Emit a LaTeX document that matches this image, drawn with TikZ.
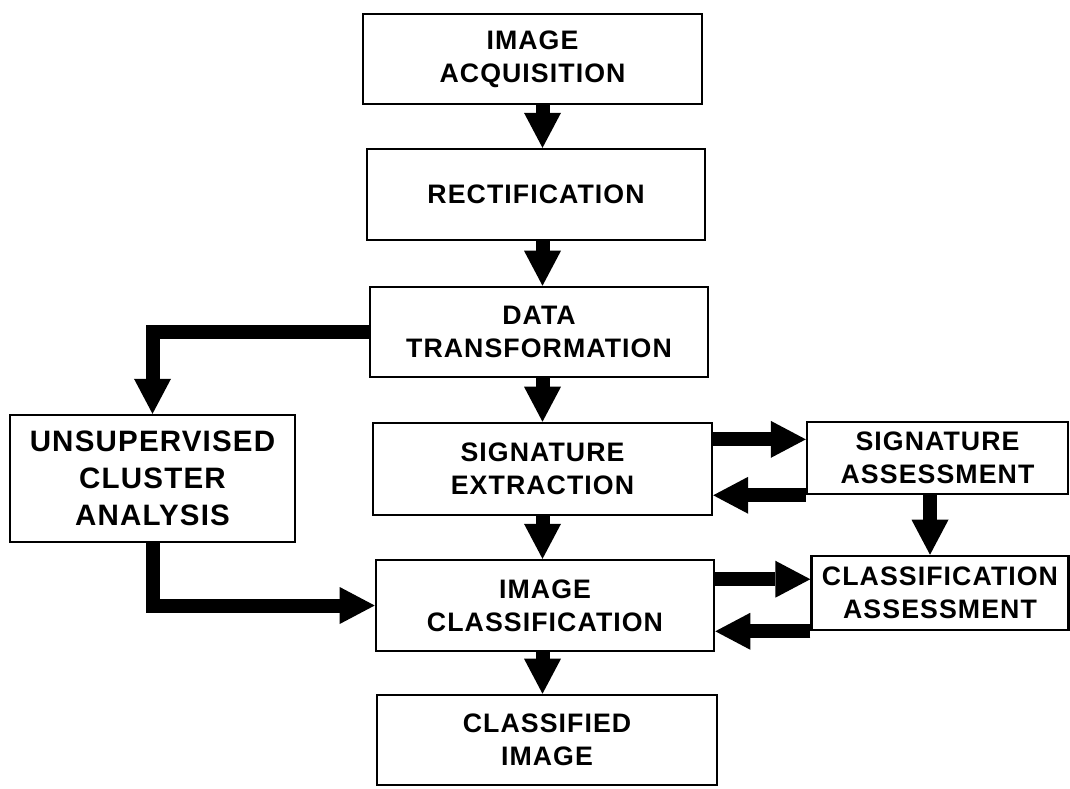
\documentclass[tikz,border=0pt]{standalone}
\usepackage{fontspec}
\setmainfont{Liberation Sans}[LetterSpace=4]
\usepackage{tikz}
\usetikzlibrary{arrows.meta,positioning,calc}

\begin{document}
\begin{tikzpicture}[
    x=0.025cm, y=-0.025cm,
    every node/.style={font=\bfseries\fontsize{19}{23.5}\selectfont},
    blk/.style={draw,line width=1.8pt,align=center,inner sep=0pt},
    bigblk/.style={blk,font=\bfseries\fontsize{21}{26.5}\selectfont},
    fat/.style={-{Triangle[length=0.875cm,width=0.925cm,line width=0pt]},line width=0.35cm}
]
\useasboundingbox (0,0) rectangle (1070,788);

% main chain
\node[blk,minimum width=8.47cm,minimum height=2.25cm] (acq) at (532.5,59) {IMAGE\\ACQUISITION};
\node[blk,minimum width=8.45cm,minimum height=2.27cm] (rect) at (536,194.5) {RECTIFICATION};
\node[blk,minimum width=8.45cm,minimum height=2.25cm] (trans) at (539,332) {DATA\\TRANSFORMATION};
\node[blk,minimum width=8.47cm,minimum height=2.3cm] (sigext) at (542.5,469) {SIGNATURE\\EXTRACTION};
\node[blk,minimum width=8.45cm,minimum height=2.27cm] (imgclass) at (545,605.5) {IMAGE\\CLASSIFICATION};
\node[blk,minimum width=8.5cm,minimum height=2.25cm] (classified) at (547,740) {CLASSIFIED\\IMAGE};

% side branch
\node[bigblk,minimum width=7.12cm,minimum height=3.17cm] (unsup) at (152.5,478.5) {UNSUPERVISED\\CLUSTER\\ANALYSIS};

% assessments
\node[blk,minimum width=6.52cm,minimum height=1.8cm] (sigass) at (937.5,458) {SIGNATURE\\ASSESSMENT};
\node[blk,minimum width=6.42cm,minimum height=1.85cm] (classass) at (940,593) {CLASSIFICATION\\ASSESSMENT};

% flow down
\draw[fat] (acq.south -| sigext) -- (rect.north -| sigext);
\draw[fat] (rect.south -| sigext) -- (trans.north -| sigext);
\draw[fat] (trans.south -| sigext) -- (sigext.north);
\draw[fat] (sigext.south) -- (imgclass.north -| sigext);
\draw[fat] (imgclass.south -| sigext) -- (classified.north -| sigext);

% unsupervised path
\draw[fat] (trans.west) -| (unsup.north);
\draw[fat] (unsup.south) |- (imgclass.west);

% feedback loops
\coordinate (sa1) at ($(sigass.north west)!0.25!(sigass.south west)$);
\draw[fat] (sa1 -| sigext.east) -- (sa1);
\draw[fat] (sigass.south west) -- (sigass.south west -| sigext.east);
\coordinate (ca1) at ($(classass.north west)!0.32!(classass.south west)$);
\draw[fat] (ca1 -| imgclass.east) -- (ca1);
\draw[fat] (classass.south west) -- (classass.south west -| imgclass.east);
\draw[fat] (sigass.south -| 930,0) -- (classass.north -| 930,0);

\end{tikzpicture}
\end{document}
